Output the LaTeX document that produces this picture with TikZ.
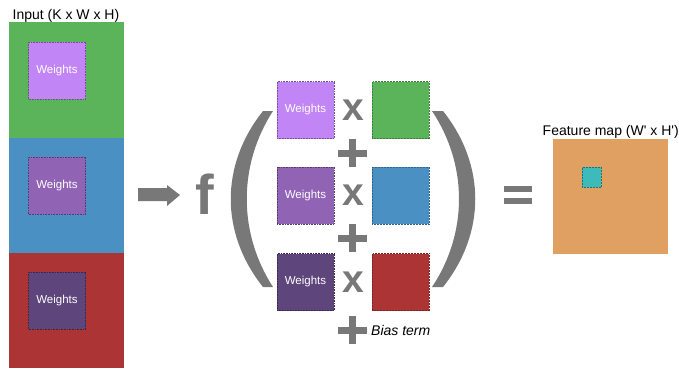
\documentclass[tikz,border=0pt]{standalone}
\usepackage{fontspec}
\setmainfont{Liberation Sans}
\definecolor{cgreen}{HTML}{5BB45A}
\definecolor{cblue}{HTML}{4A90C2}
\definecolor{cred}{HTML}{AD3434}
\definecolor{wlight}{HTML}{C285F5}
\definecolor{wmid}{HTML}{9163B5}
\definecolor{wdark}{HTML}{5E457C}
\definecolor{corange}{HTML}{E0A062}
\definecolor{cteal}{HTML}{3DBBBB}
\definecolor{sym}{HTML}{787878}
\begin{document}
\begin{tikzpicture}[x=1pt,y=-1pt,
  layer/.style={draw=none,fill=#1,inner sep=0,outer sep=0,minimum width=115pt,minimum height=115.5pt},
  wbox/.style={fill=#1,draw=#1!60!black,densely dotted,line width=0.6pt,inner sep=0,minimum width=57pt,minimum height=57pt,text=white,font=\fontsize{11.5}{13}\selectfont},
  cbox/.style={fill=#1,draw=#1!70!black,densely dotted,line width=0.5pt,inner sep=0,minimum width=57pt,minimum height=57pt},
  lbl/.style={inner sep=0,font=\fontsize{14}{16}\selectfont},
  times/.style={inner sep=0,text=sym,font=\fontsize{39}{40}\selectfont\bfseries},
  plusbar/.style={draw=sym,line width=7pt},
  symfill/.style={fill=sym,draw=none}]
\useasboundingbox (0,0) rectangle (679,368);
% left column
\node[layer=cgreen] (lg) at (66.5,80) {};
\node[layer=cblue] (lb) at (66.5,195.5) {};
\node[layer=cred] (lr) at (66.5,310.5) {};
\node[wbox=wlight] (w1) at (57,70.5) {Weights};
\node[wbox=wmid] (w2) at (57,185.5) {Weights};
\node[wbox=wdark] (w3) at (57,300.5) {Weights};
\node[lbl,anchor=base west] (inlbl) at (12.5,19) {Input (K x W x H)};
% arrow
\path[symfill] (138,188) -- (167,188) -- (167,185) -- (180,195) -- (167,206) -- (167,201) -- (138,201) -- cycle;
\node[inner sep=0,text=sym,anchor=base,font=\fontsize{56}{60}\selectfont\bfseries] (f) at (205,214) {f};
% parentheses
\path[symfill] (263,111) .. controls (220,165) and (220,233) .. (263,287) -- (273,287) .. controls (238,233) and (238,165) .. (273,111) -- cycle;
\path[symfill] (443,111) .. controls (486,165) and (486,233) .. (443,287) -- (432,287) .. controls (468,233) and (468,165) .. (432,111) -- cycle;
% middle boxes
\node[wbox=wlight] (m1) at (305.5,110) {Weights};
\node[wbox=wmid] (m2) at (305.5,195.5) {Weights};
\node[wbox=wdark] (m3) at (305.5,282) {Weights};
\node[cbox=cgreen] (c1) at (400.5,110) {};
\node[cbox=cblue] (c2) at (400.5,195.5) {};
\node[cbox=cred] (c3) at (400.5,282) {};
\node[times] (x1) at (353,110) {x};
\node[times] (x2) at (353,195.5) {x};
\node[times] (x3) at (353,282) {x};
% plus signs
\coordinate (p1) at (352.5,153);
\coordinate (p2) at (352.5,238);
\coordinate (p3) at (352.5,330);
\foreach \p in {p1,p2,p3}{
  \draw[plusbar] ([xshift=-14.5pt]\p) -- ([xshift=14.5pt]\p);
  \draw[plusbar] ([yshift=-14pt]\p) -- ([yshift=14pt]\p);
}
\node[inner sep=0,anchor=west,font=\fontsize{14}{16}\selectfont\itshape] (bias) at (371,330) {Bias term};
% equals
\path[symfill] (504,186) rectangle (532,192);
\path[symfill] (504,197.5) rectangle (532,203.5);
% feature map
\node[fill=corange,draw=none,inner sep=0,minimum width=115pt,minimum height=115pt] (fm) at (610.5,196.5) {};
\node[fill=cteal,draw=cteal!60!black,densely dotted,line width=0.5pt,inner sep=0,minimum width=19pt,minimum height=20pt] (ft) at (591.5,177) {};
\node[lbl,anchor=base west] (fmlbl) at (542.5,135) {Feature map (W\textquotesingle{} x H\textquotesingle)};
\end{tikzpicture}
\end{document}
